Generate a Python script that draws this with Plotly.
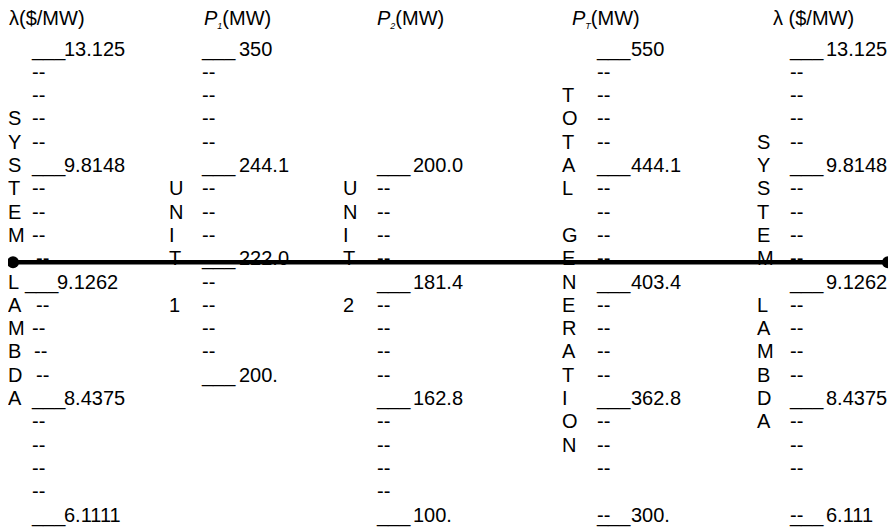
import plotly.graph_objects as go

# ---------------- nomogram data (row index 0 = top tick, 20 = bottom tick) ----------------
lam_l_rows = [0, 5, 10, 15, 20]
lam_l_labels = ["13.125", "9.8148", "9.1262", "8.4375", "6.1111"]
lam_l_minor = [1, 2, 3, 4, 6, 7, 8, 9, 11, 12, 13, 14, 16, 17, 18, 19]
lam_l_word = "SYSTEM LAMBDA"
lam_l_word_start = 3

p1_rows = [0, 5, 9, 14]
p1_labels = ["350", "244.1", "222.0", "200."]
p1_minor = [1, 2, 3, 4, 6, 7, 8, 10, 11, 12, 13]
p1_word = "UNIT 1"
p1_word_start = 6

p2_rows = [5, 10, 15, 20]
p2_labels = ["200.0", "181.4", "162.8", "100."]
p2_minor = [6, 7, 8, 9, 11, 12, 13, 14, 16, 17, 18, 19]
p2_word = "UNIT 2"
p2_word_start = 6

pt_rows = [0, 5, 10, 15, 20]
pt_labels = ["550", "444.1", "403.4", "362.8", "300."]
pt_minor = [1, 2, 3, 4, 6, 7, 8, 9, 11, 12, 13, 14, 16, 17, 18, 20]
pt_word = "TOTAL GENERATION"
pt_word_start = 2

lam_r_rows = [0, 5, 10, 15, 20]
lam_r_labels = ["13.125", "9.8148", "9.1262", "8.4375", "6.111"]
lam_r_minor = [1, 2, 3, 4, 6, 7, 8, 9, 11, 12, 13, 14, 16, 17, 18, 20]
lam_r_word = "SYSTEM LAMBDA"
lam_r_word_start = 4

SUB = '<sub><span style="font-size:9px"><i>{}</i></span></sub>'
headers = ["λ($/MW)",
           "<i>P</i>" + SUB.format("1") + "(MW)",
           "<i>P</i>" + SUB.format("2") + "(MW)",
           "<i>P</i>" + SUB.format("T") + "(MW)",
           "λ ($/MW)"]

# reading line across the nomogram (row position)
reading_row = 9.2

# ---------------- layout / style ----------------
PAGE_W, PAGE_H = 896, 530
OFF = 8                      # browser body margin around the figure
W, H = PAGE_W - OFF, PAGE_H - OFF
ROW0_PX, ROW_PX = 48.0, 23.3  # page pixel of row 0 and row spacing
TEXT_DY = 2.5 / ROW_PX        # small downward nudge so glyphs centre on their row
FONT = "Liberation Sans, Arial, Helvetica, sans-serif"
FS = 20

columns = [
    # letter x, tick x, label x, header x  (page pixels); nudge: per-row x shift of tick/label
    dict(rows=lam_l_rows, labels=lam_l_labels, minor=lam_l_minor, word=lam_l_word,
         start=lam_l_word_start, lx=8, tx=32, nx=64, hx=9,
         nudge={9: 4, 10: -7, 11: 4, 13: 2, 14: 4}),
    dict(rows=p1_rows, labels=p1_labels, minor=p1_minor, word=p1_word,
         start=p1_word_start, lx=169, tx=202, nx=239, hx=204, nudge={}),
    dict(rows=p2_rows, labels=p2_labels, minor=p2_minor, word=p2_word,
         start=p2_word_start, lx=343, tx=377, nx=413, hx=377, nudge={}),
    dict(rows=pt_rows, labels=pt_labels, minor=pt_minor, word=pt_word,
         start=pt_word_start, lx=562, tx=597, nx=631, hx=572, nudge={}),
    dict(rows=lam_r_rows, labels=lam_r_labels, minor=lam_r_minor, word=lam_r_word,
         start=lam_r_word_start, lx=757, tx=790, nx=826, hx=773, nudge={}),
]

fig = go.Figure()
txtfont = dict(family=FONT, size=FS, color="black")

def add_text(xs, ys, texts):
    fig.add_trace(go.Scatter(x=xs, y=[y + TEXT_DY for y in ys], text=texts, mode="text",
                             textposition="middle right", textfont=txtfont,
                             hoverinfo="skip", showlegend=False, cliponaxis=False))

header_row = (17 - ROW0_PX) / ROW_PX
for col, hdr in zip(columns, headers):
    nd = col["nudge"]
    ys, ts = [], []
    for i, ch in enumerate(col["word"]):
        if ch != " ":
            ys.append(col["start"] + i)
            ts.append(ch)
    add_text([col["lx"]] * len(ys), ys, ts)
    add_text([col["tx"] + nd.get(r, 0) for r in col["minor"]], col["minor"],
             ["--"] * len(col["minor"]))
    add_text([col["tx"] + nd.get(r, 0) for r in col["rows"]], col["rows"],
             ["___"] * len(col["rows"]))
    add_text([col["nx"] + nd.get(r, 0) for r in col["rows"]], col["rows"], col["labels"])
    add_text([col["hx"]], [header_row], [hdr])

fig.add_trace(go.Scatter(x=[13, 888], y=[reading_row, reading_row], mode="lines+markers",
                         line=dict(color="black", width=4.5),
                         marker=dict(color="black", size=12),
                         hoverinfo="skip", showlegend=False, cliponaxis=False))

fig.update_layout(
    width=W, height=H, margin=dict(l=0, r=0, t=0, b=0),
    paper_bgcolor="white", plot_bgcolor="white",
    xaxis=dict(range=[OFF, PAGE_W], visible=False, fixedrange=True),
    yaxis=dict(range=[(PAGE_H - ROW0_PX) / ROW_PX, (OFF - ROW0_PX) / ROW_PX],
               visible=False, fixedrange=True),
)

fig.write_html("out.html")
